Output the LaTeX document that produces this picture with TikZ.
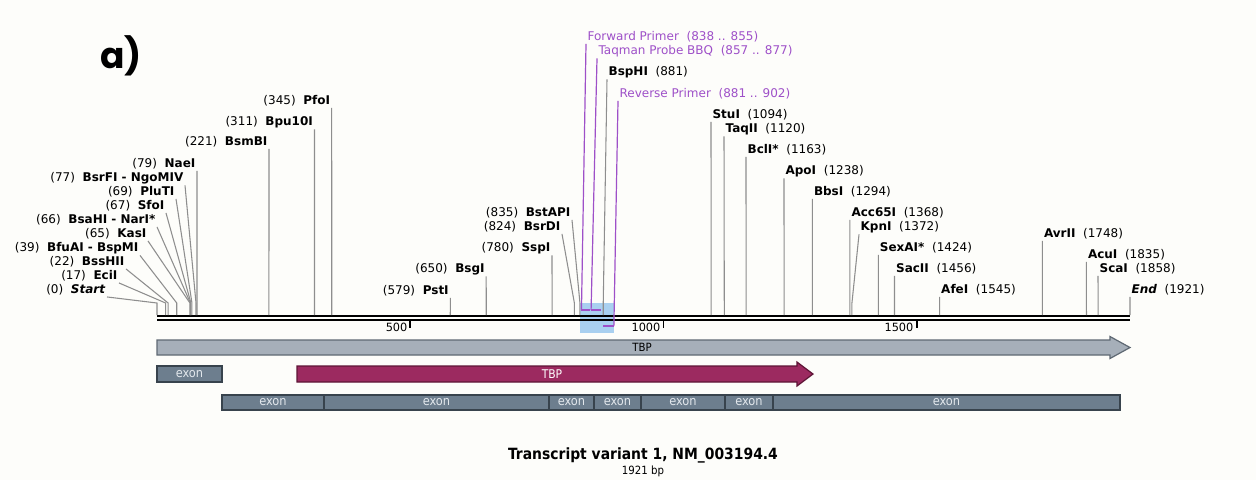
\documentclass[tikz,border=0pt]{standalone}
\usepackage{fontspec}
\setmainfont{DejaVu Sans}
\newfontfamily\condfont{DejaVu Sans Condensed}
\newfontfamily\panelfont{Poppins}
\usepackage{xcolor}
\usetikzlibrary{calc,positioning}

\definecolor{bgcol}{HTML}{FDFDFA}
\definecolor{leadgray}{HTML}{8E8E8E}
\definecolor{primerpurple}{HTML}{9E50C8}
\definecolor{hilite}{HTML}{A9D0F0}
\definecolor{genegray}{HTML}{A6AFB9}
\definecolor{genegrayline}{HTML}{5F6973}
\definecolor{cdsred}{HTML}{9C2A60}
\definecolor{cdsdark}{HTML}{5E1536}
\definecolor{exonfill}{HTML}{6D7E8E}
\definecolor{exonline}{HTML}{38434D}
\definecolor{exontextc}{HTML}{E2E7EC}

\newcommand{\cutfont}{\fontsize{9}{10}\selectfont}
% position on the map, 0 .. 1921 bp
\newcommand{\mapsite}[2]{\coordinate (s-#1) at ({157+0.50651*#2},315);}

\begin{document}
\begin{tikzpicture}[x=0.75pt, y=-0.75pt,
    cutleft/.style={anchor=east, inner sep=1pt, font=\cutfont},
    cutright/.style={anchor=west, inner sep=1pt, font=\cutfont},
    primer/.style={cutright, text=primerpurple},
    leader/.style={draw=leadgray, line width=0.8pt},
    primerlead/.style={draw=primerpurple, line width=0.9pt},
    primerbar/.style={draw=primerpurple, line width=1.6pt},
    mapline/.style={draw=black, line width=1.8pt},
    tickmark/.style={draw=black, line width=1.2pt},
    ticklabel/.style={anchor=east, inner sep=1pt, font=\fontsize{8.5}{9}\selectfont},
    genebar/.style={draw=genegrayline, fill=genegray, line width=0.9pt},
    cdsbar/.style={draw=cdsdark, fill=cdsred, line width=0.9pt},
    exonbox/.style={draw=exonline, fill=exonfill, line width=0.9pt},
    exontext/.style={font=\condfont\fontsize{9.5}{10}\selectfont, text=exontextc, inner sep=0pt},
    bartext/.style={font=\condfont\fontsize{8.5}{9}\selectfont, inner sep=0pt}
  ]
    \useasboundingbox[fill=bgcol] (0,0) rectangle (1256,480);

    \node[font=\panelfont\bfseries\fontsize{27}{30}\selectfont, anchor=west, inner sep=0pt] (panel) at (100,56) {a)};

    % sites on the map
    \mapsite{start}{0}   \mapsite{eciI}{17}   \mapsite{bssHII}{22} \mapsite{bfuAI}{39}
    \mapsite{kasI}{65}   \mapsite{bsaHI}{66}  \mapsite{sfoI}{67}   \mapsite{pluTI}{69}
    \mapsite{bsrFI}{77}  \mapsite{naeI}{79}   \mapsite{bsmBI}{221} \mapsite{bpu10I}{311}
    \mapsite{pfoI}{345}  \mapsite{pstI}{579}  \mapsite{bsgI}{650}  \mapsite{sspI}{780}
    \mapsite{bsrDI}{824} \mapsite{bstAPI}{835} \mapsite{bspHI}{881} \mapsite{stuI}{1094}
    \mapsite{taqII}{1120} \mapsite{bclI}{1163} \mapsite{apoI}{1238} \mapsite{bbsI}{1294}
    \mapsite{acc65I}{1368} \mapsite{kpnI}{1372} \mapsite{sexAI}{1424} \mapsite{sacII}{1456}
    \mapsite{afeI}{1545} \mapsite{avrII}{1748} \mapsite{acuI}{1835} \mapsite{scaI}{1858}
    \mapsite{stop}{1921}
    \coordinate (f-a) at ({157+0.50651*838},310);
    \coordinate (f-b) at ({157+0.50651*855},310);
    \coordinate (t-a) at ({157+0.50651*857},310);
    \coordinate (t-b) at ({157+0.50651*877},310);
    \coordinate (r-a) at ({157+0.50651*881},326);
    \coordinate (r-b) at ({157+0.50651*902},326);

    % amplicon and map
    \fill[hilite] (580,303) rectangle (614,333);
    \coordinate (mapL) at (157,316.2);
    \coordinate (mapR) at (1130,316.2);
    \draw[mapline] (mapL) -- (mapR);
    \draw[mapline] ([yshift=-2.9pt]mapL) -- ([yshift=-2.9pt]mapR);

    \coordinate (t500)  at ({157+0.50651*500},321);
    \coordinate (t1000) at ({157+0.50651*1000},321);
    \coordinate (t1500) at ({157+0.50651*1500},321);
    \draw[tickmark] (t500) -- ++(0,7);
    \draw[tickmark] (t1000) -- ++(0,7);
    \draw[tickmark] (t1500) -- ++(0,7);
    \node[ticklabel] (l500)  at (409,327) {500};
    \node[ticklabel] (l1000) at (662,327) {1000};
    \node[ticklabel] (l1500) at (915,327) {1500};

    % labels left of their sites
    \node[cutleft] (start)  at (107,290)   {(0)\ \ \textbf{\textit{Start}}};
    \node[cutleft] (eciI)   at (119,276)   {(17)\ \ \textbf{EciI}};
    \node[cutleft] (bssHII) at (126,262)   {(22)\ \ \textbf{BssHII}};
    \node[cutleft] (bfuAI)  at (140,248)   {(39)\ \ \textbf{BfuAI - BspMI}};
    \node[cutleft] (kasI)   at (148,234)   {(65)\ \ \textbf{KasI}};
    \node[cutleft] (bsaHI)  at (157,220)   {(66)\ \ \textbf{BsaHI - NarI*}};
    \node[cutleft] (sfoI)   at (166,206)   {(67)\ \ \textbf{SfoI}};
    \node[cutleft] (pluTI)  at (176,192)   {(69)\ \ \textbf{PluTI}};
    \node[cutleft] (bsrFI)  at (185,178)   {(77)\ \ \textbf{BsrFI - NgoMIV}};
    \node[cutleft] (naeI)   at (197,164)   {(79)\ \ \textbf{NaeI}};
    \node[cutleft] (bsmBI)  at (269,142)   {(221)\ \ \textbf{BsmBI}};
    \node[cutleft] (bpu10I) at (314.5,122) {(311)\ \ \textbf{Bpu10I}};
    \node[cutleft] (pfoI)   at (331.7,101) {(345)\ \ \textbf{PfoI}};
    \node[cutleft] (pstI)   at (450.3,291) {(579)\ \ \textbf{PstI}};
    \node[cutleft] (bsgI)   at (486.2,269) {(650)\ \ \textbf{BsgI}};
    \node[cutleft] (sspI)   at (552,248)   {(780)\ \ \textbf{SspI}};
    \node[cutleft] (bsrDI)  at (562,227)   {(824)\ \ \textbf{BsrDI}};
    \node[cutleft] (bstAPI) at (572,213)   {(835)\ \ \textbf{BstAPI}};

    % labels right of their sites
    \node[cutright] (bspHI)  at (607,72)     {\textbf{BspHI}\ \ (881)};
    \node[cutright] (stuI)   at (711,115)    {\textbf{StuI}\ \ (1094)};
    \node[cutright] (taqII)  at (724,129)    {\textbf{TaqII}\ \ (1120)};
    \node[cutright] (bclI)   at (746,150)    {\textbf{BclI*}\ \ (1163)};
    \node[cutright] (apoI)   at (784,171)    {\textbf{ApoI}\ \ (1238)};
    \node[cutright] (bbsI)   at (812.4,192)  {\textbf{BbsI}\ \ (1294)};
    \node[cutright] (acc65I) at (849.9,213)  {\textbf{Acc65I}\ \ (1368)};
    \node[cutright] (kpnI)   at (859,227)    {\textbf{KpnI}\ \ (1372)};
    \node[cutright] (sexAI)  at (878.3,248)  {\textbf{SexAI*}\ \ (1424)};
    \node[cutright] (sacII)  at (894.5,269)  {\textbf{SacII}\ \ (1456)};
    \node[cutright] (afeI)   at (939.6,290)  {\textbf{AfeI}\ \ (1545)};
    \node[cutright] (avrII)  at (1042.4,234) {\textbf{AvrII}\ \ (1748)};
    \node[cutright] (acuI)   at (1086.4,255) {\textbf{AcuI}\ \ (1835)};
    \node[cutright] (scaI)   at (1098,269)   {\textbf{ScaI}\ \ (1858)};
    \node[cutright] (stop)   at (1130,290)   {\textbf{\textit{End}}\ \ (1921)};

    % primers and probe
    \node[primer] (fwd) at (586,37) {Forward Primer\ \ (838 .. 855)};
    \node[primer] (tqm) at (597,51) {Taqman Probe BBQ\ \ (857 .. 877)};
    \node[primer] (rev) at (618,94) {Reverse Primer\ \ (881 .. 902)};

    \draw[leader] (start.south east)  -- ($(s-start)+(0,-12)$)  -- (s-start);
    \draw[leader] (eciI.south east)   -- ($(s-eciI)+(0,-12)$)   -- (s-eciI);
    \draw[leader] (bssHII.south east) -- ($(s-bssHII)+(0,-12)$) -- (s-bssHII);
    \draw[leader] (bfuAI.south east)  -- ($(s-bfuAI)+(0,-12)$)  -- (s-bfuAI);
    \draw[leader] (kasI.south east)   -- ($(s-kasI)+(0,-12)$)   -- (s-kasI);
    \draw[leader] (bsaHI.south east)  -- ($(s-bsaHI)+(0,-12)$)  -- (s-bsaHI);
    \draw[leader] (sfoI.south east)   -- ($(s-sfoI)+(0,-12)$)   -- (s-sfoI);
    \draw[leader] (pluTI.south east)  -- ($(s-pluTI)+(0,-12)$)  -- (s-pluTI);
    \draw[leader] (bsrFI.south east)  -- ($(s-bsrFI)+(0,-12)$)  -- (s-bsrFI);
    \draw[leader] (naeI.south east)   -- ($(s-naeI)+(0,-12)$)   -- (s-naeI);
    \draw[leader] (bsmBI.south east)  -- (s-bsmBI);
    \draw[leader] (bpu10I.south east) -- (s-bpu10I);
    \draw[leader] (pfoI.south east)   -- (s-pfoI);
    \draw[leader] (pstI.south east)   -- (s-pstI);
    \draw[leader] (bsgI.south east)   -- (s-bsgI);
    \draw[leader] (sspI.south east)   -- (s-sspI);
    \draw[leader] (bsrDI.south east)  -- ($(s-bsrDI)+(0,-12)$)  -- (s-bsrDI);
    \draw[leader] (bstAPI.south east) -- ($(s-bstAPI)+(0,-12)$) -- (s-bstAPI);
    \draw[leader] (bspHI.south west)  -- ($(s-bspHI)+(0,-12)$)  -- (s-bspHI);
    \draw[leader] (stuI.south west)   -- (s-stuI);
    \draw[leader] (taqII.south west)  -- (s-taqII);
    \draw[leader] (bclI.south west)   -- (s-bclI);
    \draw[leader] (apoI.south west)   -- (s-apoI);
    \draw[leader] (bbsI.south west)   -- (s-bbsI);
    \draw[leader] (acc65I.south west) -- (s-acc65I);
    \draw[leader] (kpnI.south west)   -- ($(s-kpnI)+(0,-12)$)   -- (s-kpnI);
    \draw[leader] (sexAI.south west)  -- (s-sexAI);
    \draw[leader] (sacII.south west)  -- (s-sacII);
    \draw[leader] (afeI.south west)   -- (s-afeI);
    \draw[leader] (avrII.south west)  -- (s-avrII);
    \draw[leader] (acuI.south west)   -- (s-acuI);
    \draw[leader] (scaI.south west)   -- (s-scaI);
    \draw[leader] (stop.south west)   -- (s-stop);

    \draw[primerlead] (fwd.south west) -- (f-a);
    \draw[primerlead] (tqm.south west) -- (t-a);
    \draw[primerlead] (rev.south west) -- (r-b);
    \draw[primerbar] (f-a) -- (f-b);
    \draw[primerbar] (t-a) -- (t-b);
    \draw[primerbar] (r-a) -- (r-b);

    % gene, exons and coding region
    \draw[genebar] (157,340) -- (1110,340) -- (1110,336.5) -- (1130,347.5)
      -- (1110,358.5) -- (1110,355) -- (157,355) -- cycle;
    \node[bartext] (gene) at (642,347.5) {TBP};

    \draw[exonbox] (157,366) rectangle (222,382);
    \node[exontext] (ex0) at (189.5,374) {exon};

    \draw[cdsbar] (297,366) -- (797,366) -- (797,362) -- (813,374)
      -- (797,386) -- (797,382) -- (297,382) -- cycle;
    \node[bartext, text=white, font=\condfont\fontsize{9}{10}\selectfont] (cds) at (552,374) {TBP};

    \draw[exonbox] (222,395) rectangle (1120,410);
    \draw[exonline, line width=0.9pt] (324,395) -- (324,410) (549,395) -- (549,410)
      (594,395) -- (594,410) (641,395) -- (641,410) (725,395) -- (725,410) (773,395) -- (773,410);
    \node[exontext] (ex1) at (273,402.5)   {exon};
    \node[exontext] (ex2) at (436.5,402.5) {exon};
    \node[exontext] (ex3) at (571.5,402.5) {exon};
    \node[exontext] (ex4) at (617.5,402.5) {exon};
    \node[exontext] (ex5) at (683,402.5)   {exon};
    \node[exontext] (ex6) at (749,402.5)   {exon};
    \node[exontext] (ex7) at (946.5,402.5) {exon};

    \node[font=\condfont\bfseries\fontsize{11.6}{13}\selectfont, inner sep=0pt] (title) at (643,455) {Transcript variant 1, NM\_003194.4};
    \node[font=\condfont\fontsize{8.5}{9}\selectfont, inner sep=0pt, below=2pt of title] (len) {1921 bp};
  \end{tikzpicture}
\end{document}
